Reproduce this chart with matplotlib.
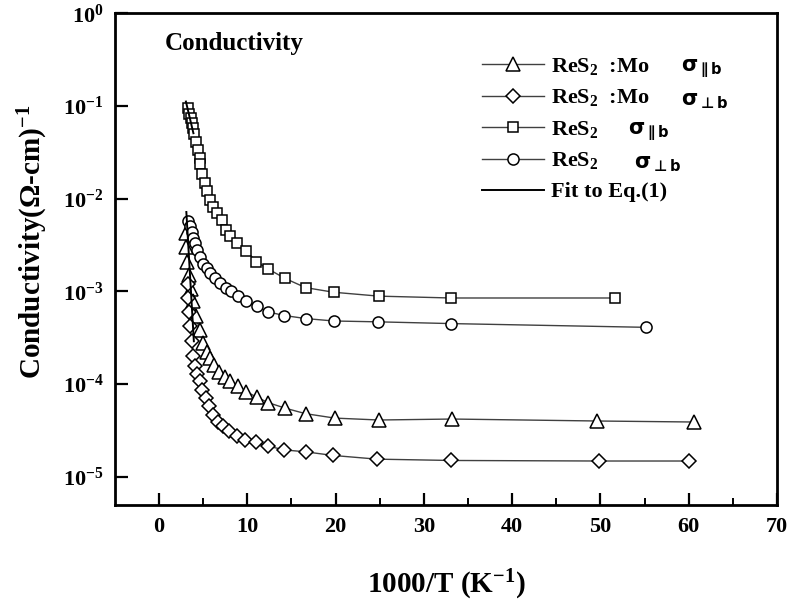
import matplotlib
matplotlib.use('Agg')
from matplotlib import pyplot as plt
from matplotlib.ticker import FixedLocator, NullLocator

plt.rcParams['font.family'] = ['Liberation Serif', 'DejaVu Serif']
plt.rcParams['font.weight'] = 'bold'
plt.rcParams['mathtext.fontset'] = 'custom'
plt.rcParams['mathtext.rm'] = 'Liberation Serif:bold'
plt.rcParams['mathtext.it'] = 'Liberation Serif:bold:italic'
plt.rcParams['mathtext.bf'] = 'Liberation Serif:bold'

# ReS2:Mo, sigma parallel b (triangles)
mo_par_x = [3.1, 3.1, 3.2, 3.4, 3.6, 3.9, 4.2, 4.6, 5.0, 5.4, 5.8, 6.2, 6.8, 7.5, 8.1,
            8.9, 9.9, 11.1, 12.4, 14.3, 16.6, 19.9, 24.9, 33.2, 49.6, 60.6]
mo_par_y = [4.3e-3, 3.0e-3, 2.1e-3, 1.5e-3, 1.07e-3, 7.8e-4, 5.4e-4, 3.8e-4, 2.75e-4,
            2.24e-4, 1.9e-4, 1.62e-4, 1.35e-4, 1.2e-4, 1.07e-4, 9.5e-5, 8.3e-5, 7.2e-5,
            6.3e-5, 5.5e-5, 4.8e-5, 4.3e-5, 4.1e-5, 4.2e-5, 4.0e-5, 3.9e-5]

# ReS2:Mo, sigma perpendicular b (diamonds)
mo_perp_x = [3.3, 3.3, 3.4, 3.5, 3.7, 3.9, 4.1, 4.3, 4.6, 4.9, 5.3, 5.7, 6.1, 6.7, 7.3,
             7.9, 8.8, 9.8, 11.0, 12.3, 14.2, 16.6, 19.7, 24.7, 33.1, 49.8, 60.0]
mo_perp_y = [1.2e-3, 8.5e-4, 6.0e-4, 4.2e-4, 2.9e-4, 2.0e-4, 1.55e-4, 1.29e-4, 1.07e-4,
             8.7e-5, 7.1e-5, 5.75e-5, 4.7e-5, 3.9e-5, 3.5e-5, 3.1e-5, 2.75e-5, 2.5e-5,
             2.35e-5, 2.15e-5, 1.95e-5, 1.86e-5, 1.7e-5, 1.55e-5, 1.5e-5, 1.48e-5, 1.48e-5]

# ReS2, sigma parallel b (squares)
res_par_x = [3.3, 3.4, 3.6, 3.7, 3.9, 4.0, 4.2, 4.4, 4.6, 4.7, 4.9, 5.2, 5.4, 5.8, 6.1,
             6.6, 7.1, 7.6, 8.1, 8.8, 9.9, 11.0, 12.4, 14.3, 16.6, 19.8, 24.9, 33.1, 51.6]
res_par_y = [9.5e-2, 8.3e-2, 7.4e-2, 6.5e-2, 5.8e-2, 5.0e-2, 4.1e-2, 3.4e-2, 2.75e-2,
             2.35e-2, 1.86e-2, 1.48e-2, 1.2e-2, 9.8e-3, 8.1e-3, 7.1e-3, 5.9e-3, 4.6e-3,
             4.0e-3, 3.3e-3, 2.75e-3, 2.1e-3, 1.74e-3, 1.38e-3, 1.1e-3, 9.8e-4, 8.9e-4,
             8.5e-4, 8.5e-4]

# ReS2, sigma perpendicular b (circles)
res_perp_x = [3.3, 3.5, 3.7, 3.8, 4.1, 4.3, 4.6, 5.0, 5.4, 5.8, 6.3, 6.9, 7.6, 8.2, 9.0,
              9.9, 11.1, 12.4, 14.2, 16.6, 19.8, 24.8, 33.1, 55.2]
res_perp_y = [5.75e-3, 5.1e-3, 4.4e-3, 3.8e-3, 3.3e-3, 2.8e-3, 2.35e-3, 2.0e-3, 1.78e-3,
              1.58e-3, 1.38e-3, 1.23e-3, 1.1e-3, 1.0e-3, 8.9e-4, 7.9e-4, 6.9e-4, 6.0e-4,
              5.5e-4, 5.1e-4, 4.8e-4, 4.7e-4, 4.5e-4, 4.1e-4]

# fits to Eq.(1), high temperature part
fit_par_x = [3.05, 3.9]
fit_par_y = [1.12e-1, 5.1e-2]
fit_mo_x = [3.1, 3.95]
fit_mo_y = [7.2e-3, 2.9e-4]

x_ticks = [0, 10, 20, 30, 40, 50, 60, 70]
y_ticks = [1e-5, 1e-4, 1e-3, 1e-2, 1e-1, 1e0]
y_tick_labels = [r'$10^{-5}$', r'$10^{-4}$', r'$10^{-3}$', r'$10^{-2}$', r'$10^{-1}$', r'$10^{0}$']

legend_names = [r'ReS$_2$  :Mo', r'ReS$_2$  :Mo', r'ReS$_2$', r'ReS$_2$', 'Fit to Eq.(1)']
sigma_names = [r'$\mathbf{\sigma}_{\mathbf{\parallel b}}$', r'$\mathbf{\sigma}_{\mathbf{\bot b}}$',
               r'$\mathbf{\sigma}_{\mathbf{\parallel b}}$', r'$\mathbf{\sigma}_{\mathbf{\bot b}}$']
sigma_gap = [32, 32, 30, 36]  # pixels after the legend text


def main():
    fig = plt.figure(figsize=(7.92, 6.11), dpi=100)
    ax = fig.add_axes([0.145, 0.174, 0.836, 0.804])
    line_kw = dict(color='0.25', linewidth=1.0, markerfacecolor='white',
                   markeredgecolor='black', markeredgewidth=1.1)
    ax.plot(mo_par_x, mo_par_y, marker='^', markersize=9.5, label=legend_names[0], **line_kw)
    ax.plot(mo_perp_x, mo_perp_y, marker='D', markersize=7.5, label=legend_names[1], **line_kw)
    ax.plot(res_par_x, res_par_y, marker='s', markersize=7.5, label=legend_names[2], **line_kw)
    ax.plot(res_perp_x, res_perp_y, marker='o', markersize=8, label=legend_names[3], **line_kw)
    ax.plot(fit_par_x, fit_par_y, color='black', linewidth=1.4, label=legend_names[4])
    ax.plot(fit_mo_x, fit_mo_y, color='black', linewidth=1.4)

    ax.set_yscale('log')
    ax.set_xlim(-5, 70)
    ax.set_ylim(5e-6, 1)
    ax.xaxis.set_major_locator(FixedLocator(x_ticks))
    ax.xaxis.set_minor_locator(FixedLocator([5, 15, 25, 35, 45, 55, 65]))
    ax.yaxis.set_major_locator(FixedLocator(y_ticks))
    ax.yaxis.set_minor_locator(NullLocator())
    ax.set_yticklabels(y_tick_labels)
    ax.tick_params(axis='both', which='major', direction='in', length=9, width=1.6,
                   labelsize=16, top=False, right=False)
    ax.tick_params(axis='x', which='major', pad=9)
    ax.tick_params(axis='y', which='major', pad=8)
    ax.tick_params(axis='x', which='minor', direction='in', length=5, width=1.4)
    for spine in ax.spines.values():
        spine.set_linewidth(2.0)

    ax.set_xlabel(r'1000/T (K$^{-1}$)', fontsize=21, fontweight='bold', labelpad=22)
    ax.set_ylabel(r'Conductivity($\Omega$-cm)$^{-1}$', fontsize=21, fontweight='bold')
    ax.yaxis.set_label_coords(-0.098, 0.535)
    ax.text(0.6, 0.4, 'Conductivity', fontsize=18, fontweight='bold',
            transform=ax.transData)
    leg = ax.legend(loc='upper left', bbox_to_anchor=(0.524, 0.954), frameon=False,
                    fontsize=16, handlelength=2.8, handletextpad=0.3, labelspacing=0.47)

    # sigma symbols next to the legend names
    fig.canvas.draw()
    for txt, name, gap in zip(leg.get_texts(), sigma_names, sigma_gap):
        bb = txt.get_window_extent()
        fig.text(bb.x1 + gap, bb.y0 - 3, name, transform=None, fontsize=15,
                 family='DejaVu Sans', math_fontfamily='dejavusans', va='bottom')
    plt.savefig('out.png', dpi=100)


if __name__ == '__main__':
    main()
